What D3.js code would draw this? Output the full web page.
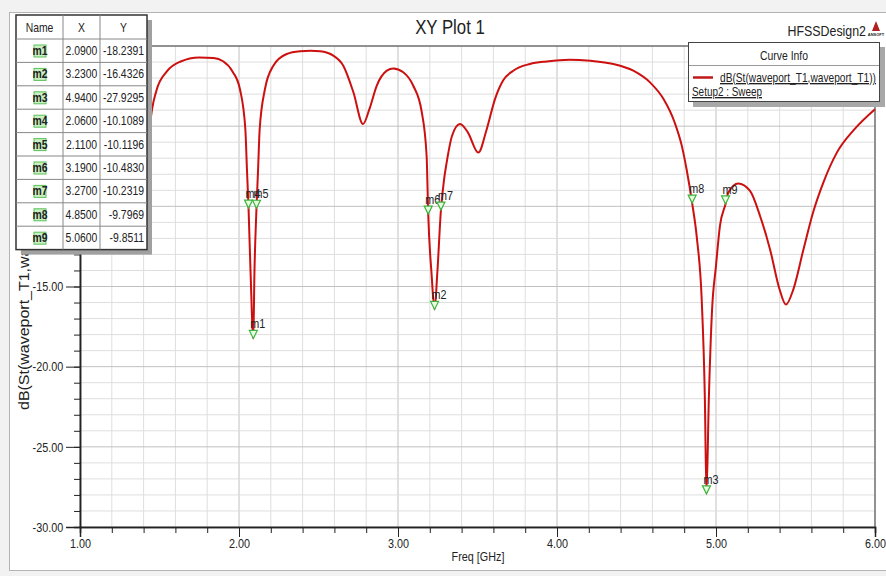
<!DOCTYPE html>
<html>
<head>
<meta charset="utf-8">
<script src="https://cdn.jsdelivr.net/npm/d3@7"></script>
<style>
  body { margin: 0; background: #f2f2f2; }
  svg { display: block; }
  text { font-family: "Liberation Sans", Arial, sans-serif; fill: #222; }
</style>
</head>
<body>
<div id="chart"></div>
<script>
// sweep data
var freq = [1.00, 1.10, 1.20, 1.30, 1.36, 1.39, 1.41, 1.425, 1.44, 1.48, 1.545, 1.63, 1.75, 1.84, 1.90, 1.96, 2.006,
    2.04, 2.05, 2.06, 2.073, 2.09, 2.097, 2.11, 2.12, 2.13, 2.163, 2.216, 2.30, 2.384, 2.45, 2.51, 2.593,
    2.656, 2.72, 2.78, 2.82, 2.866, 2.93, 2.97, 3.033, 3.096, 3.149, 3.18, 3.19, 3.211, 3.23, 3.247, 3.27,
    3.29, 3.306, 3.34, 3.39, 3.44, 3.505, 3.558, 3.61, 3.66, 3.725, 3.83, 3.935, 4.08, 4.21, 4.354, 4.48,
    4.585, 4.67, 4.74, 4.785, 4.815, 4.85, 4.88, 4.91, 4.93, 4.94, 4.955, 4.975, 5.00, 5.025, 5.06, 5.077,
    5.14, 5.214, 5.277, 5.34, 5.40, 5.44, 5.486, 5.55, 5.61, 5.675, 5.76, 5.87, 6.00]
var s11 = [-3.0, -2.5, -4.0, -8.0, -11.0, -11.5, -9.6, -7.2, -5.0, -2.8, -1.6, -0.98, -0.72, -0.75, -0.95, -1.6, -2.7,
    -5.2, -7.7, -10.11, -14.2, -18.24, -14.2, -10.12, -7.7, -5.2, -2.7, -1.23, -0.5, -0.33, -0.3, -0.33, -0.6,
    -1.23, -2.9, -4.87, -3.94, -2.48, -1.54, -1.4, -1.64, -2.48, -4.1, -6.86, -10.48, -14.2, -16.43, -14.2, -10.23,
    -8.3, -7.27, -5.6, -4.87, -5.4, -6.65, -5.19, -3.31, -2.17, -1.54, -1.12, -0.96, -0.85, -0.92, -1.12, -1.54,
    -2.27, -3.31, -4.77, -6.23, -7.69, -9.80, -12.0, -15.8, -22.0, -27.93, -22.0, -16.5, -13.7, -11.2, -9.85, -9.15,
    -8.58, -9.04, -10.6, -12.69, -15.19, -16.13, -15.19, -12.69, -10.4, -8.52, -6.65, -5.2, -3.94]

// markers
var markerNames = ['m1', 'm2', 'm3', 'm4', 'm5', 'm6', 'm7', 'm8', 'm9']
var markerX = [2.09, 3.23, 4.94, 2.06, 2.11, 3.19, 3.27, 4.85, 5.06]
var markerY = [-18.2391, -16.4326, -27.9295, -10.1089, -10.1196, -10.4830, -10.2319, -9.7969, -9.8511]

// axes
var xTicks = [1, 2, 3, 4, 5, 6]
var yTicks = [-30, -25, -20, -15, -10, -5, 0]
var tableHeader = ['Name', 'X', 'Y']
var curveName = 'dB(St(waveport_T1,waveport_T1))'
var setupName = 'Setup2 : Sweep'

var width = 886, height = 576
var plotL = 80, plotR = 875, plotT = 46, plotB = 527
var squeeze = 0.8   // the ansoft font is a narrow one

var x = d3.scaleLinear().domain([1, 6]).range([plotL, plotR])
var y = d3.scaleLinear().domain([-30, 0]).range([plotB, plotT])

// plain hyphen minus like hfss does
function fix(n) { return function (d) { return d.toFixed(n) } }

var svg = d3.select('#chart').append('svg')
    .attr('width', width)
    .attr('height', height)

// narrow text helper
function txt(g, tx, ty, s, size, anchor) {
    return g.append('text')
        .attr('transform', 'translate(' + tx + ',' + ty + ') scale(' + squeeze + ',1)')
        .attr('text-anchor', anchor || 'start')
        .style('font-size', size + 'px')
        .text(s)
}

// window frame
svg.append('rect').attr('x', 9.5).attr('y', 12.5).attr('width', 890).attr('height', 558)
    .attr('fill', '#fff').attr('stroke', '#b4b4b4')

// grid
var minorX = d3.range(1, 6.001, 0.2), minorY = d3.range(-30, 0.001, 1)
svg.append('g').selectAll('line').data(minorX).enter().append('line')
    .attr('x1', function (d) { return x(d) }).attr('x2', function (d) { return x(d) })
    .attr('y1', plotT).attr('y2', plotB)
    .attr('stroke', function (d, i) { return i % 5 === 0 ? '#c0c0c0' : '#dedede' })
svg.append('g').selectAll('line').data(minorY).enter().append('line')
    .attr('y1', function (d) { return y(d) }).attr('y2', function (d) { return y(d) })
    .attr('x1', plotL).attr('x2', plotR)
    .attr('stroke', function (d, i) { return i % 5 === 0 ? '#c0c0c0' : '#dedede' })

// plot border
svg.append('line').attr('x1', plotL).attr('x2', plotR).attr('y1', plotT).attr('y2', plotT).attr('stroke', '#444')
svg.append('line').attr('x1', plotR).attr('x2', plotR).attr('y1', plotT).attr('y2', plotB).attr('stroke', '#444')

// axes with minor ticks
svg.append('g').attr('transform', 'translate(0,' + plotB + ')')
    .call(d3.axisBottom(x).tickValues(minorX).tickSize(6).tickFormat(''))
svg.append('g').attr('transform', 'translate(0,' + plotB + ')')
    .call(d3.axisBottom(x).tickValues(xTicks).tickSize(10).tickPadding(1).tickFormat(fix(2)))
svg.append('g').attr('transform', 'translate(' + plotL + ',0)')
    .call(d3.axisLeft(y).tickValues(minorY).tickSize(6).tickFormat(''))
svg.append('g').attr('transform', 'translate(' + plotL + ',0)')
    .call(d3.axisLeft(y).tickValues(yTicks).tickSize(14).tickPadding(7).tickFormat(fix(2)))
svg.selectAll('.domain').attr('stroke', '#222').attr('stroke-width', 1.5)
svg.selectAll('.tick line').attr('stroke', '#222')
svg.selectAll('.tick text').style('font-size', '13.5px').attr('fill', '#222')
    .attr('transform', 'scale(' + squeeze + ',1)')

// axis titles
txt(svg, 478, 561, 'Freq [GHz]', 13.5, 'middle')
svg.append('text').attr('transform', 'translate(29,410) rotate(-90)')
    .style('font-size', '14px').attr('textLength', 245).attr('lengthAdjust', 'spacingAndGlyphs')
    .text(curveName)

// curve
var line = d3.line()
    .x(function (d, i) { return x(freq[i]) })
    .y(function (d) { return y(d) })
    .curve(d3.curveMonotoneX)
svg.append('path').datum(s11).attr('d', line)
    .attr('fill', 'none').attr('stroke', '#cc1010').attr('stroke-width', 2)

// markers on the curve
var mk = svg.append('g').selectAll('g').data(markerNames).enter().append('g')
    .attr('transform', function (d, i) { return 'translate(' + x(markerX[i]) + ',' + y(markerY[i]) + ')' })
mk.append('path').attr('d', 'M-4,-8L4,-8L0,0Z')
    .attr('fill', '#e8ffe0').attr('stroke', '#3cb43c').attr('stroke-width', 1.2)
mk.each(function (d) { txt(d3.select(this), -3, -10, d, 13.5, 'start').attr('fill', '#222') })

// title and logo
txt(svg, 450, 34, 'XY Plot 1', 21, 'middle')
txt(svg, 866, 36, 'HFSSDesign2', 15.5, 'end')
svg.append('path').attr('d', 'M876,21L872,31L880,31Z').attr('fill', '#b02020')
svg.append('text').attr('x', 876).attr('y', 36).attr('text-anchor', 'middle')
    .style('font-size', '4px').style('font-weight', 'bold').text('ANSOFT')

// curve info legend
var lg = svg.append('g')
lg.append('rect').attr('x', 693).attr('y', 47).attr('width', 192).attr('height', 60).attr('fill', '#a8a8a8')
lg.append('rect').attr('x', 688.5).attr('y', 42.5).attr('width', 191).attr('height', 59)
    .attr('fill', '#fff').attr('stroke', '#444')
lg.append('line').attr('x1', 689).attr('x2', 879).attr('y1', 65.5).attr('y2', 65.5).attr('stroke', '#999')
txt(lg, 784, 60, 'Curve Info', 13, 'middle')
lg.append('line').attr('x1', 693).attr('x2', 713).attr('y1', 77.5).attr('y2', 77.5)
    .attr('stroke', '#c01818').attr('stroke-width', 2.5)
lg.append('text').attr('x', 720).attr('y', 82).style('font-size', '13.5px')
    .attr('textLength', 156).attr('lengthAdjust', 'spacingAndGlyphs')
    .style('text-decoration', 'underline').text(curveName)
lg.append('text').attr('x', 692).attr('y', 96).style('font-size', '13.5px')
    .attr('textLength', 70).attr('lengthAdjust', 'spacingAndGlyphs')
    .style('text-decoration', 'underline').text(setupName)

// marker table
var tx = 16, ty = 15, colW = [47, 37, 47], headH = 24, rowH = 23.4
var tw = d3.sum(colW), th = headH + rowH * markerNames.length
var tb = svg.append('g')
tb.append('rect').attr('x', tx + 5).attr('y', ty + 5).attr('width', tw).attr('height', th).attr('fill', '#a0a0a0')
tb.append('rect').attr('x', tx).attr('y', ty).attr('width', tw).attr('height', th)
    .attr('fill', '#fff').attr('stroke', '#333').attr('stroke-width', 1.5)
var colX = [tx, tx + colW[0], tx + colW[0] + colW[1], tx + tw]
colX.slice(1, 3).forEach(function (cx) {
    tb.append('line').attr('x1', cx).attr('x2', cx).attr('y1', ty).attr('y2', ty + th).attr('stroke', '#888')
})
markerNames.forEach(function (d, i) {
    var ry = ty + headH + rowH * i
    tb.append('line').attr('x1', tx).attr('x2', tx + tw).attr('y1', ry).attr('y2', ry).attr('stroke', '#888')
    tb.append('rect').attr('x', tx + 18).attr('y', ry + 6).attr('width', 12).attr('height', 12)
        .attr('fill', '#c8f0c0').attr('stroke', '#5cc05c')
    txt(tb, tx + 24, ry + 16, d, 13, 'middle').style('font-weight', 'bold').attr('fill', '#333')
    txt(tb, (colX[1] + colX[2]) / 2, ry + 16, fix(4)(markerX[i]), 13, 'middle')
    txt(tb, colX[3] - 3, ry + 16, fix(4)(markerY[i]), 13, 'end')
})
tableHeader.forEach(function (h, i) {
    txt(tb, (colX[i] + colX[i + 1]) / 2, ty + 17, h, 13, 'middle')
})
</script>
</body>
</html>
